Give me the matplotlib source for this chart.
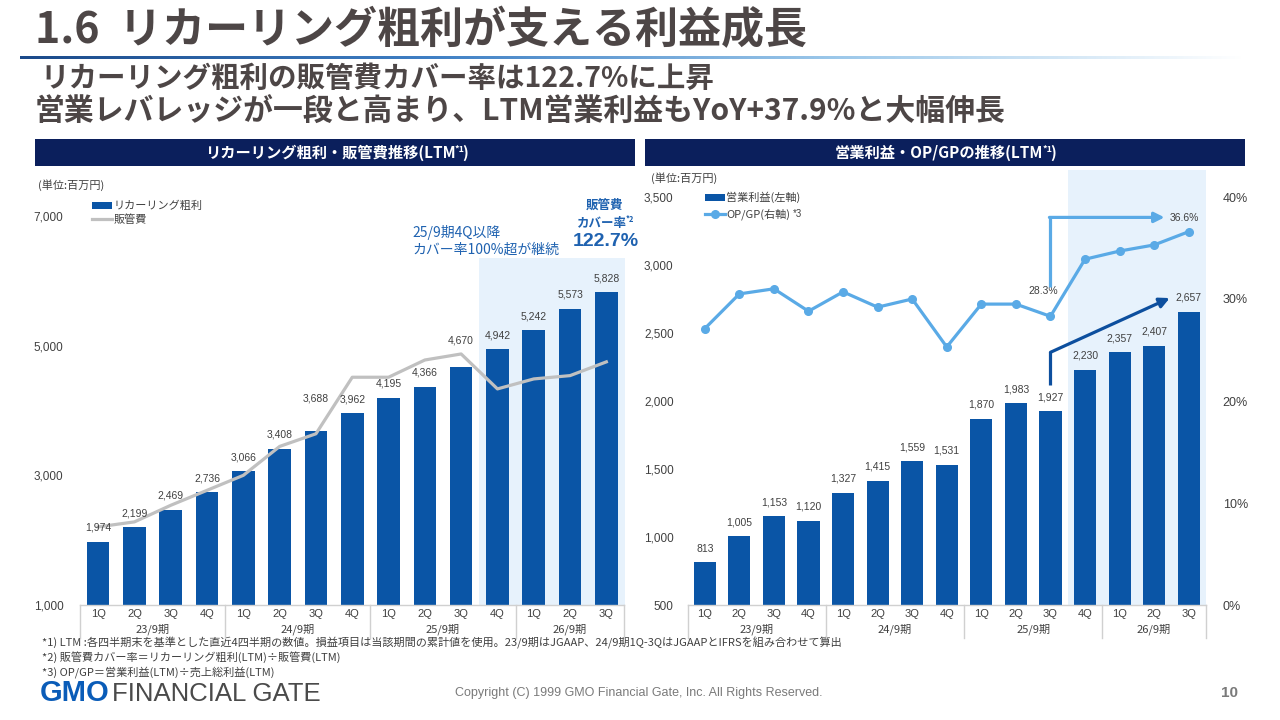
import matplotlib
matplotlib.use("Agg")
import matplotlib.pyplot as plt
import numpy as np
from matplotlib.patches import Rectangle
from matplotlib.colors import LinearSegmentedColormap

# ---------------- data ----------------
quarters = ["1Q", "2Q", "3Q", "4Q", "1Q", "2Q", "3Q", "4Q", "1Q", "2Q", "3Q", "4Q", "1Q", "2Q", "3Q"]
fiscal_years = ["23/9期", "24/9期", "25/9期", "26/9期"]
fy_counts = [4, 4, 4, 3]

recurring_gp = [1974, 2199, 2469, 2736, 3066, 3408, 3688, 3962, 4195, 4366, 4670, 4942, 5242, 5573, 5828]
sga = [2205, 2282, 2538, 2769, 3000, 3446, 3641, 4513, 4513, 4779, 4872, 4333, 4487, 4538, 4750]

op_income = [813, 1005, 1153, 1120, 1327, 1415, 1559, 1531, 1870, 1983, 1927, 2230, 2357, 2407, 2657]
op_gp = [27.1, 30.5, 31.0, 28.8, 30.7, 29.2, 30.0, 25.3, 29.5, 29.5, 28.3, 33.9, 34.7, 35.3, 36.6]

left_yticks = [1000, 3000, 5000, 7000]
right_yticks = [500, 1000, 1500, 2000, 2500, 3000, 3500]
pct_ticks = [0, 10, 20, 30, 40]

# ---------------- style ----------------
JP = ["Noto Sans CJK JP", "DejaVu Sans"]
NUM = ["Liberation Sans", "DejaVu Sans"]
BLUE = "#0a55a6"
GRAY_LINE = "#c0c0c0"
LBLUE = "#5aaae6"
DBLUE = "#0d4f9e"
NAVY = "#0b1f5c"
TXT = "#404040"
TITLE_C = "#4d4646"
HILITE = "#e7f2fc"
ACC = "#1f62b0"

W, H = 1280, 720
fig = plt.figure(figsize=(12.8, 7.2), dpi=100)
fig.patch.set_facecolor("white")

# overlay axes in pixel coordinates
ov = fig.add_axes([0, 0, 1, 1], zorder=0)
ov.set_xlim(0, W)
ov.set_ylim(H, 0)
ov.axis("off")


def fig_rect(x0, y_top, x1, y_bot):
    return [x0 / W, (H - y_bot) / H, (x1 - x0) / W, (y_bot - y_top) / H]


renderer = fig.canvas.get_renderer()


def rich(x, y, parts, ha="center", color="white", weight="bold", family=JP, zorder=5, kern=1.5):
    texts, widths = [], []
    for s, fs, dy in parts:
        t = ov.text(0, y + dy, s, fontsize=fs, va="baseline", ha="left", color=color,
                    fontweight=weight, family=family, zorder=zorder)
        bb = t.get_window_extent(renderer)
        texts.append(t)
        widths.append(bb.width - kern)
    total = sum(widths)
    start = x - total / 2 if ha == "center" else x
    for t, w in zip(texts, widths):
        t.set_x(start)
        start += w
    return texts


# ---------------- title area ----------------
ov.text(35, 30, "1.6  リカーリング粗利が支える利益成長", fontsize=31, fontweight="bold",
        color=TITLE_C, family=JP, va="center", ha="left")
# gradient rule
cmap = LinearSegmentedColormap.from_list("g", ["#1b4a8a", "#3f7fc4", "#9cc8ea", "#ffffff"])
grad = np.linspace(0, 1, 512).reshape(1, -1)
ov.imshow(grad, cmap=cmap, extent=[20, 1245, 59.5, 56.5], aspect="auto", interpolation="bilinear")
ov.set_xlim(0, W)
ov.set_ylim(H, 0)

ov.text(40, 79, "リカーリング粗利の販管費カバー率は122.7%に上昇", fontsize=20.5, fontweight="bold",
        color=TITLE_C, family=JP, va="center", ha="left")
ov.text(35, 112, "営業レバレッジが一段と高まり、LTM営業利益もYoY+37.9%と大幅伸長", fontsize=21.5,
        fontweight="bold", color=TITLE_C, family=JP, va="center", ha="left")

# header bars
ov.add_patch(Rectangle((35, 139), 600, 27, facecolor=NAVY, edgecolor="none"))
ov.add_patch(Rectangle((645, 139), 600, 27, facecolor=NAVY, edgecolor="none"))
rich(336, 158, [("リカーリング粗利・販管費推移(LTM", 11, 0), ("*1", 6.5, -6), (")", 11, 0)])
rich(945, 158, [("営業利益・OP/GPの推移(LTM", 11, 0), ("*1", 6.5, -6), (")", 11, 0)])

ov.text(38, 185, "(単位:百万円)", fontsize=8, color=TXT, family=JP, va="center", ha="left")
ov.text(651, 178, "(単位:百万円)", fontsize=8, color=TXT, family=JP, va="center", ha="left")

x = np.arange(len(quarters))


def category_axis(ax, pad_pts):
    ax.set_xlim(-0.5, len(quarters) - 0.5)
    ax.set_xticks(x)
    ax.set_xticklabels(quarters, fontsize=8, color=TXT, family=NUM)
    ax.tick_params(axis="x", length=0, pad=pad_pts)
    for s in ["top", "left", "right"]:
        ax.spines[s].set_visible(False)
    ax.spines["bottom"].set_color("#d0d0d0")
    ax.spines["bottom"].set_linewidth(1)
    bounds = np.concatenate([[0], np.cumsum(fy_counts)]) - 0.5
    frac = 33 / (ax.get_position().height * H)
    for b in bounds:
        ax.plot([b, b], [0, -frac], transform=ax.get_xaxis_transform(), color="#d0d0d0",
                lw=1, clip_on=False)
    for i, fy in enumerate(fiscal_years):
        cx = (bounds[i] + bounds[i + 1]) / 2
        ax.annotate(fy, xy=(cx, 0), xycoords=("data", "axes fraction"), xytext=(0, -17.5),
                    textcoords="offset points", ha="center", va="center", fontsize=8,
                    color=TXT, family=JP)


# ---------------- left chart ----------------
axL = fig.add_axes(fig_rect(80, 216, 624.5, 605), zorder=1)
axL.patch.set_alpha(0)
axL.set_ylim(1000, 7000)
axL.set_yticks(left_yticks)
axL.set_yticklabels([f"{v:,}" for v in left_yticks], fontsize=8.5, color=TXT, family=NUM)
axL.tick_params(axis="y", length=0, pad=12)
category_axis(axL, 3)
axL.axvspan(10.5, 14.5, ymin=0, ymax=0.892, color=HILITE, zorder=0, lw=0)
barsL = axL.bar(x, recurring_gp, width=0.62, color=BLUE, zorder=2, label="リカーリング粗利")
lineL, = axL.plot(x, sga, color=GRAY_LINE, lw=2.3, zorder=3, label="販管費")
extra_off = {6: 13, 10: 9}
for i, v in enumerate(recurring_gp):
    off = 10 + extra_off.get(i, 0)
    axL.annotate(f"{v:,}", xy=(i, v), xytext=(0, off), textcoords="offset points",
                 ha="center", va="center", fontsize=7.5, color=TXT, family=NUM, zorder=4)
legL = axL.legend(handles=[barsL, lineL], loc="upper left", bbox_to_anchor=(92 / W, 1 - 201 / H),
                  bbox_transform=fig.transFigure, frameon=False, prop={"family": JP, "size": 8},
                  handlelength=1.8, handleheight=0.5, handletextpad=0.1, labelspacing=0.25,
                  borderaxespad=0, borderpad=0)
for t in legL.get_texts():
    t.set_color(TXT)

ov.text(412, 232, "25/9期4Q以降", fontsize=10, color=ACC, family=JP, va="center", ha="left")
ov.text(412, 250, "カバー率100%超が継続", fontsize=10, color=ACC, family=JP, va="center", ha="left")
ov.text(605, 205, "販管費", fontsize=9, color=ACC, family=JP, va="center", ha="center",
        fontweight="bold")
rich(605, 227, [("カバー率", 9, 0), ("*2", 5.5, -5)], color=ACC, weight="bold")
ov.text(606, 242, "122.7%", fontsize=14, color=ACC, family=NUM, va="center", ha="center",
        fontweight="bold")

# ---------------- right chart ----------------
axR = fig.add_axes(fig_rect(687.5, 197, 1206, 605), zorder=1)
axR.patch.set_alpha(0)
axR.set_ylim(500, 3500)
axR.set_yticks(right_yticks)
axR.set_yticklabels([f"{v:,}" for v in right_yticks], fontsize=8.5, color=TXT, family=NUM)
axR.tick_params(axis="y", length=0, pad=10)
category_axis(axR, 3)
axR.add_patch(Rectangle((10.5, 0), 4, 1.066, transform=axR.get_xaxis_transform(),
                        facecolor=HILITE, edgecolor="none", zorder=0, clip_on=False))
barsR = axR.bar(x, op_income, width=0.64, color=BLUE, zorder=2, label="営業利益(左軸)")
for i, v in enumerate(op_income):
    axR.annotate(f"{v:,}", xy=(i, v), xytext=(0, 10), textcoords="offset points",
                 ha="center", va="center", fontsize=7.5, color=TXT, family=NUM, zorder=4)

axP = axR.twinx()
axP.set_zorder(2)
axP.patch.set_alpha(0)
axP.set_ylim(0, 40)
axP.set_yticks(pct_ticks)
axP.set_yticklabels([f"{v}%" for v in pct_ticks], fontsize=9, color=TXT, family=NUM)
axP.tick_params(axis="y", length=0, pad=12)
for s in ["top", "left", "right", "bottom"]:
    axP.spines[s].set_visible(False)
lineR, = axP.plot(x, op_gp, color=LBLUE, lw=2.3, marker="o", markersize=5.5, zorder=3,
                  label="OP/GP(右軸)")
axP.annotate(f"{op_gp[10]:.1f}%", xy=(10, op_gp[10]), xytext=(-5, 18), textcoords="offset points",
             ha="center", va="center", fontsize=7.5, color=TXT, family=NUM)
axP.annotate(f"{op_gp[14]:.1f}%", xy=(14, op_gp[14]), xytext=(-3, 10), textcoords="offset points",
             ha="center", va="center", fontsize=7.5, color=TXT, family=NUM)

legR = axR.legend(handles=[barsR, lineR], loc="upper left", bbox_to_anchor=(705 / W, 1 - 192 / H),
                  bbox_transform=fig.transFigure, frameon=False, prop={"family": JP, "size": 8},
                  handlelength=1.8, handleheight=0.5, handletextpad=0.1, labelspacing=0.45,
                  borderaxespad=0, borderpad=0)
for t in legR.get_texts():
    t.set_color(TXT)
ov.text(793, 214, "*3", fontsize=7, color=TXT, family=NUM, va="center", ha="left")

# arrows (annotation)
axP.plot([10, 10], [31.2, 38.0], color=LBLUE, lw=2.3, solid_capstyle="butt", zorder=5)
axP.annotate("", xy=(13.3, 38.0), xytext=(9.97, 38.0),
             arrowprops=dict(arrowstyle="-|>,head_length=0.6,head_width=0.3", color=LBLUE, lw=2.3,
                             shrinkA=0, shrinkB=0), zorder=5)
axR.plot([10, 10], [2118, 2360], color=DBLUE, lw=2.3, solid_capstyle="butt", zorder=5)
axR.annotate("", xy=(13.45, 2757), xytext=(10, 2358),
             arrowprops=dict(arrowstyle="-|>,head_length=0.6,head_width=0.3", color=DBLUE,
                             lw=2.3, shrinkA=0, shrinkB=0), zorder=5)
ov.text(1107, 184, "YoY", fontsize=10, color=LBLUE, family=NUM, fontweight="bold", ha="center",
        va="center", zorder=6)
ov.text(1107, 204, "+8.3pt", fontsize=14, color=LBLUE, family=NUM, fontweight="bold", ha="center",
        va="center", zorder=6)
ov.text(1113, 280, "YoY", fontsize=10.5, color=DBLUE, family=NUM, fontweight="bold",
        ha="center", va="center", zorder=6)
ov.text(1113, 299, "+37.9%", fontsize=14, color=DBLUE, family=NUM, fontweight="bold",
        ha="center", va="center", zorder=6)

# ---------------- footer ----------------
fn = [
    "*1) LTM :各四半期末を基準とした直近4四半期の数値。損益項目は当該期間の累計値を使用。23/9期はJGAAP、24/9期1Q-3QはJGAAPとIFRSを組み合わせて算出",
    "*2) 販管費カバー率＝リカーリング粗利(LTM)÷販管費(LTM)",
    "*3) OP/GP＝営業利益(LTM)÷売上総利益(LTM)",
]
for k, s in enumerate(fn):
    ov.text(42, 643 + 14.5 * k, s, fontsize=8, color=TXT, family=JP, va="center", ha="left")

gmo = ov.text(40, 701, "GMO", fontsize=21, fontweight="heavy", color="#0a5cb8", family=NUM,
              va="baseline", ha="left")
gb = gmo.get_window_extent(renderer)
ov.text(40 + gb.width + 2, 701, "FINANCIAL GATE", fontsize=18.5, color="#4a4a4a",
        family=NUM, va="baseline", ha="left")
ov.text(639, 693, "Copyright (C) 1999 GMO Financial Gate, Inc. All Rights Reserved.", fontsize=9,
        color="#7a7a7a", family=NUM, va="center", ha="center")
ov.text(1230, 693, "10", fontsize=11, color="#7a7a7a", family=NUM, va="center", ha="center",
        fontweight="bold")

fig.savefig("out.png", dpi=100, facecolor="white")
